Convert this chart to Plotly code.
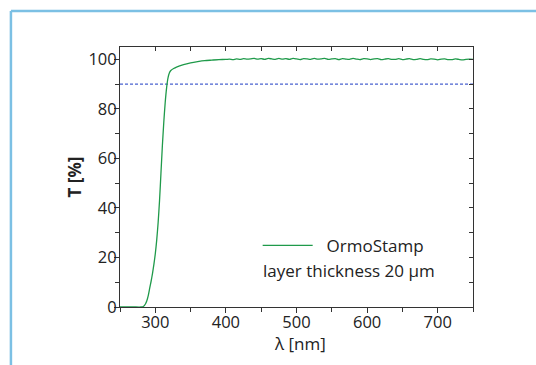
import plotly.graph_objects as go

# Transmission data
wavelength_nm = [250, 260, 270, 280, 283, 286, 288, 290, 292, 294, 296, 298, 300,
                 302, 304, 306, 308, 310, 312, 314, 316, 318, 320, 322, 326, 330,
                 340, 350, 360, 370, 380, 390, 400,
                 405, 410, 415, 420, 425, 430, 435, 440, 445, 450, 455, 460, 465,
                 470, 475, 480, 485, 490, 495, 500, 505, 510, 515, 520, 525, 530,
                 535, 540, 545, 550, 555, 560, 565, 570, 575, 580, 585, 590, 595,
                 600, 605, 610, 615, 620, 625, 630, 635, 640, 645, 650, 655, 660,
                 665, 670, 675, 680, 685, 690, 695, 700, 705, 710, 715, 720, 725,
                 730, 735, 740, 745, 750]
transmission = [0, 0, 0, 0, 0.2, 1.2, 2.5, 4.6, 7.5, 10.3, 13.5, 17.2, 21.5,
                27, 34, 43, 54, 65, 74.5, 82.5, 88.5, 92.5, 94.6, 95.5, 96.3, 96.9,
                97.9, 98.6, 99.1, 99.5, 99.7, 99.9, 100.0,
                100.1, 99.9, 100.2, 100.0, 100.3, 100.1, 100.2, 100.4, 100.1, 100.3, 100.0, 100.4, 100.2,
                100.0, 100.4, 100.1, 100.3, 100.0, 100.4, 100.2, 99.9, 100.3, 100.2, 100.0, 100.4, 100.1,
                100.2, 100.4, 100.0, 100.2, 100.3, 99.9, 100.3, 100.1, 100.0, 100.4, 100.1, 99.9, 100.3,
                100.2, 99.9, 100.2, 100.3, 99.9, 100.1, 100.3, 100.0, 100.0, 100.3, 99.9, 100.1, 100.3,
                99.9, 100.0, 100.3, 100.0, 99.9, 100.2, 100.1, 99.8, 100.1, 100.2, 99.9, 99.9, 100.2,
                100.0, 99.8, 100.0, 100.1, 100.0]
threshold_value = 90

x_range = [250, 750]
y_range = [0, 105]

series_name = "OrmoStamp"
legend_second_line = "layer thickness 20 µm"
x_title = "λ [nm]"
y_title = "T [%]"

FONT = "Open Sans, Noto Sans, sans-serif"
TEXT = "#222222"
AXIS = "#333333"
FRAME = "#7cc0e4"

fig = go.Figure()

fig.add_trace(go.Scatter(
    x=[x_range[0], x_range[1]], y=[threshold_value, threshold_value],
    mode="lines", line=dict(color="#4a62d0", width=1.1, dash="3px,2px"),
    showlegend=False, hoverinfo="skip"))

fig.add_trace(go.Scatter(
    x=wavelength_nm, y=transmission, mode="lines",
    name="\u00a0\u00a0" + series_name,
    line=dict(color="#1f9a4a", width=1.3, shape="spline", smoothing=0.6)))

# invisible trace on mirror axes (top/right, inward ticks)
fig.add_trace(go.Scatter(x=x_range, y=y_range, xaxis="x2", yaxis="y2",
                         mode="markers", marker=dict(opacity=0),
                         showlegend=False, hoverinfo="skip"))

axis_common = dict(showgrid=False, zeroline=False, showline=True,
                   linecolor=AXIS, linewidth=1, tickcolor=AXIS, ticklen=5,
                   tickwidth=1, tickfont=dict(family=FONT, size=16.5, color=TEXT))

fig.update_layout(
    width=536, height=365,
    margin=dict(l=120, r=63, t=47, b=58),
    paper_bgcolor="white", plot_bgcolor="white",
    xaxis=dict(range=x_range, tickmode="linear", tick0=300, dtick=100,
               ticks="outside", ticklabelstandoff=-5,
               minor=dict(tickmode="linear", tick0=250, dtick=50, ticks="outside",
                          ticklen=4, tickcolor=AXIS),
               **axis_common),
    yaxis=dict(range=y_range, tickmode="linear", tick0=0, dtick=20,
               ticks="outside", ticklabelstandoff=-6,
               minor=dict(tickmode="linear", tick0=0, dtick=10, ticks="outside",
                          ticklen=4, tickcolor=AXIS),
               title=dict(text="<b>" + y_title + "</b>",
                          font=dict(family=FONT, size=17, color=TEXT), standoff=2),
               **axis_common),
    xaxis2=dict(range=x_range, overlaying="x", side="top", anchor="y2",
                tickmode="linear", tick0=250, dtick=50, ticks="inside",
                showticklabels=False, showgrid=False, zeroline=False,
                showline=True, linecolor=AXIS, tickcolor=AXIS, ticklen=4),
    yaxis2=dict(range=y_range, overlaying="y", side="right", anchor="x2",
                tickmode="linear", tick0=0, dtick=10, ticks="inside",
                showticklabels=False, showgrid=False, zeroline=False,
                showline=True, linecolor=AXIS, tickcolor=AXIS, ticklen=4),
    showlegend=True,
    legend=dict(x=0.39, y=0.235, xanchor="left", yanchor="middle",
                bgcolor="rgba(0,0,0,0)", itemwidth=50,
                font=dict(family=FONT, size=17, color=TEXT)),
    annotations=[
        dict(text=legend_second_line, xref="paper", yref="paper",
             x=0.40, y=0.142, xanchor="left", yanchor="middle",
             showarrow=False, font=dict(family=FONT, size=17, color=TEXT)),
        dict(text=x_title, xref="paper", yref="paper",
             x=0.51, y=-0.142, xanchor="center", yanchor="middle",
             showarrow=False, font=dict(family=FONT, size=17, color=TEXT)),
    ],
    shapes=[
        dict(type="line", xref="paper", yref="paper",
             x0=-0.309, x1=1.18, y0=1.138, y1=1.138,
             line=dict(color=FRAME, width=2.5), layer="below"),
        dict(type="line", xref="paper", yref="paper",
             x0=-0.309, x1=-0.309, y0=1.138, y1=-0.225,
             line=dict(color=FRAME, width=2.5), layer="below"),
    ],
)

fig.write_html(
    "out.html",
    post_script="document.body.style.margin='0';"
                "document.documentElement.style.overflow='hidden';"
                "document.body.style.overflow='hidden';",
    config={"displayModeBar": False})
